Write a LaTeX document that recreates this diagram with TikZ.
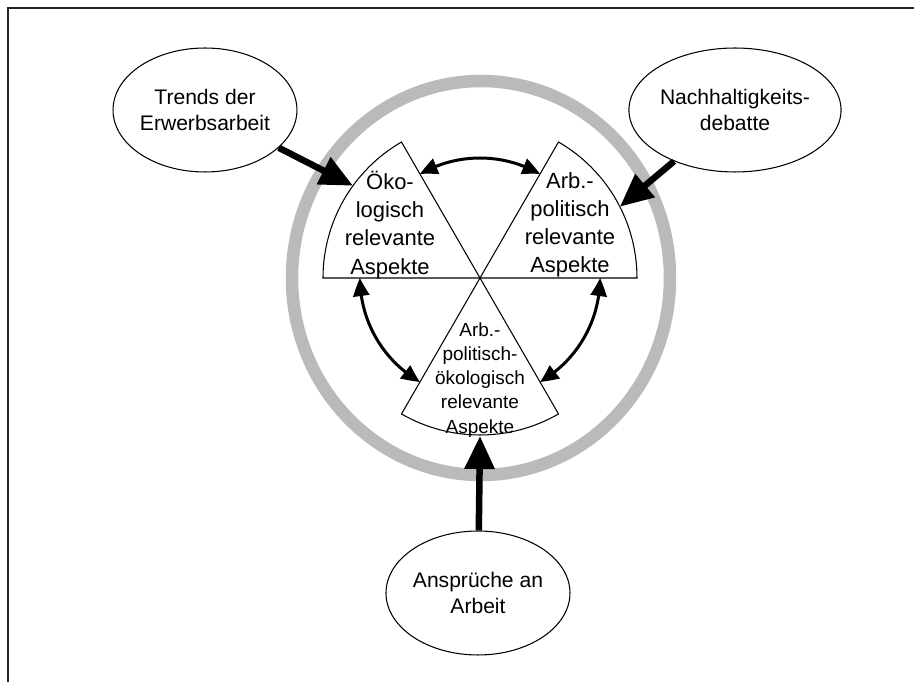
\documentclass[tikz,border=0pt]{standalone}
\usepackage{fontspec}
\setmainfont{Liberation Sans}
\usetikzlibrary{arrows.meta, bending, shapes.geometric}
\tikzstyle{diagram}=[x=0.02cm, y=0.02cm, font=\fontsize{12}{15}\selectfont]
\tikzstyle{topic}=[draw, ellipse, line width=0.6pt, minimum width=3.52cm, minimum height=2.48cm, inner sep=0pt, align=center]
\tikzstyle{sector}=[draw, fill=white, line width=0.6pt]
\tikzstyle{influence}=[-{Triangle[length=0.66cm,width=0.58cm]}, line width=0.13cm]
\tikzstyle{exchange}=[{Triangle[bend,length=0.36cm,width=0.32cm]}-{Triangle[bend,length=0.36cm,width=0.32cm]}, line width=0.06cm]

\begin{document}
\begin{tikzpicture}[diagram]
  \useasboundingbox (-480,-404) rectangle (434,278);
  \draw[line width=0.8pt, black!85] (-472,-404) -- (-472,270) -- (434,270);
  \draw[black!27, line width=0.25cm] (1,0) ellipse[x radius=189, y radius=197];
  \draw[sector] (0,0) -- (180:157) arc[start angle=180, end angle=120, radius=157] -- cycle;
  \draw[sector] (0,0) -- (0:157) arc[start angle=0, end angle=60, radius=157] -- cycle;
  \draw[sector] (0,0) -- (240:157) arc[start angle=240, end angle=300, radius=157] -- cycle;
  \node[align=center, font=\fontsize{12.5}{16}\selectfont] (oeko) at (-90,53) {Öko-\\logisch\\relevante\\Aspekte};
  \node[align=center, font=\fontsize{12.5}{16}\selectfont] (arbpol) at (90,53) {Arb.-\\politisch\\relevante\\Aspekte};
  \node[align=center, font=\fontsize{10.8}{13.7}\selectfont] (arbpoloek) at (0,-102) {Arb.-\\politisch-\\ökologisch\\relevante\\Aspekte};
  \node[topic] (trends) at (-275,168) {Trends der\\Erwerbsarbeit};
  \node[topic] (nachh) at (255,168) {Nachhaltigkeits-\\debatte};
  \node[topic] (anspr) at (-2,-315) {Ansprüche an\\Arbeit};
  \coordinate (in1) at (144:157);
  \coordinate (in2) at (27:157);
  \coordinate (in3) at (270:158);
  \coordinate (ex1) at (60:120);
  \coordinate (ex2) at (180:120);
  \coordinate (ex3) at (300:120);
  \draw[influence] (trends) -- (in1);
  \draw[influence] (nachh) -- (in2);
  \draw[influence] (anspr) -- (in3);
  \draw[exchange] (ex1) arc[start angle=60, end angle=120, radius=120];
  \draw[exchange] (ex2) arc[start angle=180, end angle=240, radius=120];
  \draw[exchange] (ex3) arc[start angle=300, end angle=360, radius=120];
\end{tikzpicture}
\end{document}
